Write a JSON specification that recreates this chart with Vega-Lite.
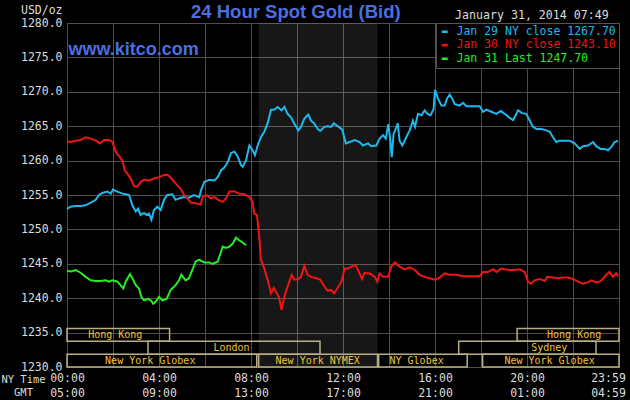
{
  "$schema": "https://vega.github.io/schema/vega-lite/v6.json",
  "width": 552,
  "height": 344,
  "autosize": "none",
  "padding": {"left": 67, "top": 23, "right": 11, "bottom": 33},
  "background": "#000000",
  "config": {
    "view": {"stroke": "#5a5a5a", "strokeWidth": 1, "fill": "#000000"},
    "axis": {"gridColor": "#4e4e4e", "gridWidth": 1, "domain": false, "ticks": false, "labelFont": "DejaVu Sans Mono", "labelFontSize": 11.5, "labelColor": "#dcdcdc", "titleFont": "DejaVu Sans Mono", "titleFontWeight": "normal", "titleColor": "#dcdcdc"}
  },
  "datasets": {
    "shade": [{"start": 8.333, "end": 13.5}],
    "sessions": [
      {"name": "Hong Kong", "start": 0, "end": 4.46, "lo": 1233.73, "hi": 1235.6, "at": 2.1},
      {"name": "Hong Kong", "start": 19.57, "end": 24, "lo": 1233.73, "hi": 1235.6, "at": 22.05},
      {"name": "London", "start": 3.52, "end": 11.0, "lo": 1231.87, "hi": 1233.73, "at": 7.15},
      {"name": "Sydney", "start": 17.03, "end": 23.0, "lo": 1231.87, "hi": 1233.73, "at": 20.97},
      {"name": "New York Globex", "start": 0, "end": 8.25, "lo": 1230, "hi": 1231.87, "at": 3.62},
      {"name": "New York NYMEX", "start": 8.333, "end": 13.5, "lo": 1230, "hi": 1231.87, "at": 10.9},
      {"name": "NY Globex", "start": 13.55, "end": 17.4, "lo": 1230, "hi": 1231.87, "at": 15.2},
      {"name": "New York Globex", "start": 18.07, "end": 24, "lo": 1230, "hi": 1231.87, "at": 20.98}
    ],
    "prices": [
      {"s": "Jan 29", "h": 0, "v": 1253.0}, {"s": "Jan 29", "h": 0.16, "v": 1253.3}, {"s": "Jan 29", "h": 0.38, "v": 1253.4}, {"s": "Jan 29", "h": 0.59, "v": 1253.4},
      {"s": "Jan 29", "h": 0.81, "v": 1253.5}, {"s": "Jan 29", "h": 1.03, "v": 1253.9}, {"s": "Jan 29", "h": 1.25, "v": 1254.3}, {"s": "Jan 29", "h": 1.39, "v": 1255.0},
      {"s": "Jan 29", "h": 1.54, "v": 1255.3}, {"s": "Jan 29", "h": 1.75, "v": 1255.5}, {"s": "Jan 29", "h": 1.9, "v": 1255.2}, {"s": "Jan 29", "h": 2.0, "v": 1255.8},
      {"s": "Jan 29", "h": 2.19, "v": 1255.5}, {"s": "Jan 29", "h": 2.41, "v": 1255.2}, {"s": "Jan 29", "h": 2.55, "v": 1255.1}, {"s": "Jan 29", "h": 2.7, "v": 1255.0},
      {"s": "Jan 29", "h": 2.84, "v": 1253.5}, {"s": "Jan 29", "h": 2.99, "v": 1252.6}, {"s": "Jan 29", "h": 3.09, "v": 1253.0}, {"s": "Jan 29", "h": 3.2, "v": 1252.1},
      {"s": "Jan 29", "h": 3.35, "v": 1252.4}, {"s": "Jan 29", "h": 3.46, "v": 1252.1}, {"s": "Jan 29", "h": 3.57, "v": 1252.3}, {"s": "Jan 29", "h": 3.67, "v": 1251.4},
      {"s": "Jan 29", "h": 3.78, "v": 1252.8}, {"s": "Jan 29", "h": 3.93, "v": 1253.3}, {"s": "Jan 29", "h": 4.07, "v": 1252.8}, {"s": "Jan 29", "h": 4.22, "v": 1254.3},
      {"s": "Jan 29", "h": 4.36, "v": 1255.0}, {"s": "Jan 29", "h": 4.58, "v": 1255.1}, {"s": "Jan 29", "h": 4.72, "v": 1254.3}, {"s": "Jan 29", "h": 4.87, "v": 1254.5},
      {"s": "Jan 29", "h": 5.09, "v": 1254.7}, {"s": "Jan 29", "h": 5.3, "v": 1254.6}, {"s": "Jan 29", "h": 5.52, "v": 1255.0}, {"s": "Jan 29", "h": 5.75, "v": 1254.7},
      {"s": "Jan 29", "h": 5.83, "v": 1255.7}, {"s": "Jan 29", "h": 5.97, "v": 1256.9}, {"s": "Jan 29", "h": 6.19, "v": 1257.2}, {"s": "Jan 29", "h": 6.41, "v": 1257.1},
      {"s": "Jan 29", "h": 6.55, "v": 1257.6}, {"s": "Jan 29", "h": 6.7, "v": 1258.6}, {"s": "Jan 29", "h": 6.84, "v": 1259.0}, {"s": "Jan 29", "h": 6.99, "v": 1259.8},
      {"s": "Jan 29", "h": 7.13, "v": 1261.1}, {"s": "Jan 29", "h": 7.28, "v": 1261.3}, {"s": "Jan 29", "h": 7.42, "v": 1260.6}, {"s": "Jan 29", "h": 7.57, "v": 1259.3},
      {"s": "Jan 29", "h": 7.64, "v": 1259.1}, {"s": "Jan 29", "h": 7.78, "v": 1260.0}, {"s": "Jan 29", "h": 7.93, "v": 1262.2}, {"s": "Jan 29", "h": 8.07, "v": 1261.5},
      {"s": "Jan 29", "h": 8.17, "v": 1260.8}, {"s": "Jan 29", "h": 8.29, "v": 1262.2}, {"s": "Jan 29", "h": 8.43, "v": 1263.4}, {"s": "Jan 29", "h": 8.58, "v": 1264.2},
      {"s": "Jan 29", "h": 8.72, "v": 1265.4}, {"s": "Jan 29", "h": 8.87, "v": 1267.4}, {"s": "Jan 29", "h": 9.01, "v": 1267.4}, {"s": "Jan 29", "h": 9.16, "v": 1267.8},
      {"s": "Jan 29", "h": 9.33, "v": 1267.3}, {"s": "Jan 29", "h": 9.45, "v": 1267.8}, {"s": "Jan 29", "h": 9.59, "v": 1266.8}, {"s": "Jan 29", "h": 9.74, "v": 1266.3},
      {"s": "Jan 29", "h": 9.88, "v": 1265.4}, {"s": "Jan 29", "h": 10.06, "v": 1264.4}, {"s": "Jan 29", "h": 10.17, "v": 1264.9}, {"s": "Jan 29", "h": 10.32, "v": 1266.1},
      {"s": "Jan 29", "h": 10.49, "v": 1266.7}, {"s": "Jan 29", "h": 10.61, "v": 1265.8}, {"s": "Jan 29", "h": 10.75, "v": 1265.4}, {"s": "Jan 29", "h": 10.9, "v": 1264.6},
      {"s": "Jan 29", "h": 11.01, "v": 1264.3}, {"s": "Jan 29", "h": 11.19, "v": 1264.9}, {"s": "Jan 29", "h": 11.33, "v": 1265.0}, {"s": "Jan 29", "h": 11.48, "v": 1264.9},
      {"s": "Jan 29", "h": 11.6, "v": 1265.4}, {"s": "Jan 29", "h": 11.78, "v": 1265.0}, {"s": "Jan 29", "h": 11.97, "v": 1264.5}, {"s": "Jan 29", "h": 12.12, "v": 1262.5},
      {"s": "Jan 29", "h": 12.29, "v": 1262.7}, {"s": "Jan 29", "h": 12.51, "v": 1263.0}, {"s": "Jan 29", "h": 12.72, "v": 1262.7}, {"s": "Jan 29", "h": 12.87, "v": 1262.2},
      {"s": "Jan 29", "h": 13.09, "v": 1262.5}, {"s": "Jan 29", "h": 13.23, "v": 1262.1}, {"s": "Jan 29", "h": 13.45, "v": 1262.2}, {"s": "Jan 29", "h": 13.59, "v": 1263.2},
      {"s": "Jan 29", "h": 13.74, "v": 1263.7}, {"s": "Jan 29", "h": 13.86, "v": 1263.2}, {"s": "Jan 29", "h": 13.97, "v": 1265.3}, {"s": "Jan 29", "h": 14.06, "v": 1262.9},
      {"s": "Jan 29", "h": 14.12, "v": 1260.5}, {"s": "Jan 29", "h": 14.2, "v": 1263.9}, {"s": "Jan 29", "h": 14.29, "v": 1264.6}, {"s": "Jan 29", "h": 14.38, "v": 1265.4},
      {"s": "Jan 29", "h": 14.46, "v": 1262.9}, {"s": "Jan 29", "h": 14.58, "v": 1262.2}, {"s": "Jan 29", "h": 14.75, "v": 1263.4}, {"s": "Jan 29", "h": 14.9, "v": 1264.4},
      {"s": "Jan 29", "h": 15.04, "v": 1265.8}, {"s": "Jan 29", "h": 15.13, "v": 1264.9}, {"s": "Jan 29", "h": 15.26, "v": 1266.8}, {"s": "Jan 29", "h": 15.41, "v": 1266.6},
      {"s": "Jan 29", "h": 15.55, "v": 1267.3}, {"s": "Jan 29", "h": 15.67, "v": 1266.8}, {"s": "Jan 29", "h": 15.81, "v": 1266.6}, {"s": "Jan 29", "h": 15.94, "v": 1267.5},
      {"s": "Jan 29", "h": 16.0, "v": 1270.3}, {"s": "Jan 29", "h": 16.13, "v": 1269.0}, {"s": "Jan 29", "h": 16.28, "v": 1268.0}, {"s": "Jan 29", "h": 16.42, "v": 1268.0},
      {"s": "Jan 29", "h": 16.52, "v": 1269.0}, {"s": "Jan 29", "h": 16.64, "v": 1269.6}, {"s": "Jan 29", "h": 16.75, "v": 1269.0}, {"s": "Jan 29", "h": 16.86, "v": 1268.2},
      {"s": "Jan 29", "h": 17.07, "v": 1268.0}, {"s": "Jan 29", "h": 17.22, "v": 1268.4}, {"s": "Jan 29", "h": 17.36, "v": 1267.9}, {"s": "Jan 29", "h": 17.58, "v": 1267.9},
      {"s": "Jan 29", "h": 17.94, "v": 1267.9}, {"s": "Jan 29", "h": 18.09, "v": 1267.1}, {"s": "Jan 29", "h": 18.23, "v": 1267.4}, {"s": "Jan 29", "h": 18.45, "v": 1267.1},
      {"s": "Jan 29", "h": 18.67, "v": 1266.8}, {"s": "Jan 29", "h": 18.86, "v": 1267.2}, {"s": "Jan 29", "h": 19.03, "v": 1266.8}, {"s": "Jan 29", "h": 19.25, "v": 1266.2},
      {"s": "Jan 29", "h": 19.39, "v": 1265.9}, {"s": "Jan 29", "h": 19.54, "v": 1266.8}, {"s": "Jan 29", "h": 19.61, "v": 1267.3}, {"s": "Jan 29", "h": 19.78, "v": 1266.9},
      {"s": "Jan 29", "h": 19.97, "v": 1266.8}, {"s": "Jan 29", "h": 20.12, "v": 1265.8}, {"s": "Jan 29", "h": 20.26, "v": 1264.9}, {"s": "Jan 29", "h": 20.41, "v": 1264.6},
      {"s": "Jan 29", "h": 20.62, "v": 1264.6}, {"s": "Jan 29", "h": 20.84, "v": 1264.4}, {"s": "Jan 29", "h": 20.99, "v": 1264.2}, {"s": "Jan 29", "h": 21.13, "v": 1263.4},
      {"s": "Jan 29", "h": 21.28, "v": 1262.7}, {"s": "Jan 29", "h": 21.42, "v": 1262.9}, {"s": "Jan 29", "h": 21.64, "v": 1262.9}, {"s": "Jan 29", "h": 21.86, "v": 1262.9},
      {"s": "Jan 29", "h": 22.07, "v": 1262.5}, {"s": "Jan 29", "h": 22.29, "v": 1261.7}, {"s": "Jan 29", "h": 22.43, "v": 1262.1}, {"s": "Jan 29", "h": 22.65, "v": 1262.2},
      {"s": "Jan 29", "h": 22.87, "v": 1262.7}, {"s": "Jan 29", "h": 23.01, "v": 1262.1}, {"s": "Jan 29", "h": 23.2, "v": 1261.7}, {"s": "Jan 29", "h": 23.38, "v": 1261.7},
      {"s": "Jan 29", "h": 23.52, "v": 1261.5}, {"s": "Jan 29", "h": 23.67, "v": 1262.0}, {"s": "Jan 29", "h": 23.81, "v": 1262.7}, {"s": "Jan 29", "h": 23.96, "v": 1262.9},

      {"s": "Jan 30", "h": 0, "v": 1262.8}, {"s": "Jan 30", "h": 0.16, "v": 1262.7}, {"s": "Jan 30", "h": 0.38, "v": 1262.9}, {"s": "Jan 30", "h": 0.59, "v": 1263.0},
      {"s": "Jan 30", "h": 0.81, "v": 1263.4}, {"s": "Jan 30", "h": 1.03, "v": 1263.2}, {"s": "Jan 30", "h": 1.25, "v": 1262.9}, {"s": "Jan 30", "h": 1.43, "v": 1262.5},
      {"s": "Jan 30", "h": 1.61, "v": 1263.0}, {"s": "Jan 30", "h": 1.83, "v": 1263.0}, {"s": "Jan 30", "h": 1.97, "v": 1262.7}, {"s": "Jan 30", "h": 2.12, "v": 1261.3},
      {"s": "Jan 30", "h": 2.3, "v": 1260.5}, {"s": "Jan 30", "h": 2.41, "v": 1260.0}, {"s": "Jan 30", "h": 2.51, "v": 1258.6}, {"s": "Jan 30", "h": 2.62, "v": 1258.1},
      {"s": "Jan 30", "h": 2.77, "v": 1257.4}, {"s": "Jan 30", "h": 2.91, "v": 1256.3}, {"s": "Jan 30", "h": 3.06, "v": 1256.2}, {"s": "Jan 30", "h": 3.2, "v": 1256.9},
      {"s": "Jan 30", "h": 3.35, "v": 1257.2}, {"s": "Jan 30", "h": 3.57, "v": 1257.1}, {"s": "Jan 30", "h": 3.78, "v": 1257.4}, {"s": "Jan 30", "h": 4.0, "v": 1257.6},
      {"s": "Jan 30", "h": 4.22, "v": 1257.9}, {"s": "Jan 30", "h": 4.39, "v": 1257.9}, {"s": "Jan 30", "h": 4.54, "v": 1257.4}, {"s": "Jan 30", "h": 4.72, "v": 1256.7},
      {"s": "Jan 30", "h": 4.94, "v": 1255.9}, {"s": "Jan 30", "h": 5.09, "v": 1255.0}, {"s": "Jan 30", "h": 5.23, "v": 1254.5}, {"s": "Jan 30", "h": 5.38, "v": 1253.9},
      {"s": "Jan 30", "h": 5.59, "v": 1253.8}, {"s": "Jan 30", "h": 5.81, "v": 1253.6}, {"s": "Jan 30", "h": 5.9, "v": 1254.7}, {"s": "Jan 30", "h": 6.04, "v": 1255.0},
      {"s": "Jan 30", "h": 6.26, "v": 1254.5}, {"s": "Jan 30", "h": 6.41, "v": 1254.7}, {"s": "Jan 30", "h": 6.58, "v": 1254.3}, {"s": "Jan 30", "h": 6.77, "v": 1254.0},
      {"s": "Jan 30", "h": 6.91, "v": 1254.5}, {"s": "Jan 30", "h": 7.06, "v": 1255.5}, {"s": "Jan 30", "h": 7.28, "v": 1255.5}, {"s": "Jan 30", "h": 7.49, "v": 1255.2},
      {"s": "Jan 30", "h": 7.71, "v": 1255.1}, {"s": "Jan 30", "h": 7.93, "v": 1254.7}, {"s": "Jan 30", "h": 8.07, "v": 1254.0}, {"s": "Jan 30", "h": 8.14, "v": 1252.3},
      {"s": "Jan 30", "h": 8.26, "v": 1252.1}, {"s": "Jan 30", "h": 8.36, "v": 1248.9}, {"s": "Jan 30", "h": 8.43, "v": 1245.6}, {"s": "Jan 30", "h": 8.58, "v": 1244.3},
      {"s": "Jan 30", "h": 8.72, "v": 1242.7}, {"s": "Jan 30", "h": 8.87, "v": 1240.7}, {"s": "Jan 30", "h": 8.99, "v": 1241.5}, {"s": "Jan 30", "h": 9.13, "v": 1240.7},
      {"s": "Jan 30", "h": 9.23, "v": 1240.0}, {"s": "Jan 30", "h": 9.33, "v": 1238.3}, {"s": "Jan 30", "h": 9.45, "v": 1240.2}, {"s": "Jan 30", "h": 9.59, "v": 1241.7},
      {"s": "Jan 30", "h": 9.77, "v": 1243.4}, {"s": "Jan 30", "h": 9.88, "v": 1242.7}, {"s": "Jan 30", "h": 10.03, "v": 1242.7}, {"s": "Jan 30", "h": 10.17, "v": 1243.1},
      {"s": "Jan 30", "h": 10.32, "v": 1244.7}, {"s": "Jan 30", "h": 10.46, "v": 1243.4}, {"s": "Jan 30", "h": 10.61, "v": 1243.1}, {"s": "Jan 30", "h": 10.83, "v": 1242.9},
      {"s": "Jan 30", "h": 11.01, "v": 1242.7}, {"s": "Jan 30", "h": 11.19, "v": 1241.7}, {"s": "Jan 30", "h": 11.33, "v": 1241.1}, {"s": "Jan 30", "h": 11.48, "v": 1241.2},
      {"s": "Jan 30", "h": 11.62, "v": 1240.7}, {"s": "Jan 30", "h": 11.71, "v": 1241.2}, {"s": "Jan 30", "h": 11.93, "v": 1242.4}, {"s": "Jan 30", "h": 12.07, "v": 1244.3},
      {"s": "Jan 30", "h": 12.22, "v": 1244.3}, {"s": "Jan 30", "h": 12.36, "v": 1244.6}, {"s": "Jan 30", "h": 12.55, "v": 1244.8}, {"s": "Jan 30", "h": 12.72, "v": 1243.6},
      {"s": "Jan 30", "h": 12.83, "v": 1242.8}, {"s": "Jan 30", "h": 12.94, "v": 1243.7}, {"s": "Jan 30", "h": 13.16, "v": 1243.6}, {"s": "Jan 30", "h": 13.38, "v": 1243.1},
      {"s": "Jan 30", "h": 13.49, "v": 1242.4}, {"s": "Jan 30", "h": 13.59, "v": 1243.6}, {"s": "Jan 30", "h": 13.74, "v": 1243.1}, {"s": "Jan 30", "h": 13.96, "v": 1243.1},
      {"s": "Jan 30", "h": 14.1, "v": 1244.6}, {"s": "Jan 30", "h": 14.25, "v": 1245.2}, {"s": "Jan 30", "h": 14.46, "v": 1244.6}, {"s": "Jan 30", "h": 14.68, "v": 1244.2},
      {"s": "Jan 30", "h": 14.9, "v": 1244.5}, {"s": "Jan 30", "h": 15.12, "v": 1244.1}, {"s": "Jan 30", "h": 15.33, "v": 1243.4}, {"s": "Jan 30", "h": 15.55, "v": 1243.1},
      {"s": "Jan 30", "h": 15.77, "v": 1242.9}, {"s": "Jan 30", "h": 15.99, "v": 1242.7}, {"s": "Jan 30", "h": 16.2, "v": 1243.0}, {"s": "Jan 30", "h": 16.42, "v": 1243.6},
      {"s": "Jan 30", "h": 16.64, "v": 1243.4}, {"s": "Jan 30", "h": 16.93, "v": 1243.4}, {"s": "Jan 30", "h": 17.22, "v": 1243.2}, {"s": "Jan 30", "h": 17.94, "v": 1243.2},
      {"s": "Jan 30", "h": 18.09, "v": 1243.8}, {"s": "Jan 30", "h": 18.3, "v": 1243.8}, {"s": "Jan 30", "h": 18.52, "v": 1244.2}, {"s": "Jan 30", "h": 18.67, "v": 1243.8},
      {"s": "Jan 30", "h": 18.88, "v": 1244.3}, {"s": "Jan 30", "h": 19.03, "v": 1244.2}, {"s": "Jan 30", "h": 19.25, "v": 1244.1}, {"s": "Jan 30", "h": 19.46, "v": 1244.1},
      {"s": "Jan 30", "h": 19.68, "v": 1244.2}, {"s": "Jan 30", "h": 19.9, "v": 1243.8}, {"s": "Jan 30", "h": 20.04, "v": 1242.4}, {"s": "Jan 30", "h": 20.16, "v": 1242.1},
      {"s": "Jan 30", "h": 20.33, "v": 1242.6}, {"s": "Jan 30", "h": 20.55, "v": 1242.8}, {"s": "Jan 30", "h": 20.77, "v": 1242.5}, {"s": "Jan 30", "h": 20.88, "v": 1243.1},
      {"s": "Jan 30", "h": 21.13, "v": 1243.0}, {"s": "Jan 30", "h": 21.35, "v": 1242.9}, {"s": "Jan 30", "h": 21.57, "v": 1243.0}, {"s": "Jan 30", "h": 21.78, "v": 1243.0},
      {"s": "Jan 30", "h": 22.0, "v": 1242.8}, {"s": "Jan 30", "h": 22.22, "v": 1242.4}, {"s": "Jan 30", "h": 22.43, "v": 1242.1}, {"s": "Jan 30", "h": 22.65, "v": 1242.3},
      {"s": "Jan 30", "h": 22.8, "v": 1242.6}, {"s": "Jan 30", "h": 23.01, "v": 1242.3}, {"s": "Jan 30", "h": 23.16, "v": 1242.4}, {"s": "Jan 30", "h": 23.3, "v": 1242.8},
      {"s": "Jan 30", "h": 23.45, "v": 1243.4}, {"s": "Jan 30", "h": 23.59, "v": 1243.8}, {"s": "Jan 30", "h": 23.74, "v": 1243.1}, {"s": "Jan 30", "h": 23.88, "v": 1243.6},
      {"s": "Jan 30", "h": 23.96, "v": 1243.2},

      {"s": "Jan 31", "h": 0, "v": 1244.0}, {"s": "Jan 31", "h": 0.16, "v": 1243.9}, {"s": "Jan 31", "h": 0.38, "v": 1244.1}, {"s": "Jan 31", "h": 0.59, "v": 1243.7},
      {"s": "Jan 31", "h": 0.81, "v": 1243.1}, {"s": "Jan 31", "h": 1.03, "v": 1242.6}, {"s": "Jan 31", "h": 1.25, "v": 1242.5}, {"s": "Jan 31", "h": 1.46, "v": 1242.5},
      {"s": "Jan 31", "h": 1.68, "v": 1242.6}, {"s": "Jan 31", "h": 1.83, "v": 1242.4}, {"s": "Jan 31", "h": 1.97, "v": 1242.6}, {"s": "Jan 31", "h": 2.19, "v": 1242.4},
      {"s": "Jan 31", "h": 2.33, "v": 1241.9}, {"s": "Jan 31", "h": 2.45, "v": 1241.4}, {"s": "Jan 31", "h": 2.55, "v": 1242.4}, {"s": "Jan 31", "h": 2.74, "v": 1243.5},
      {"s": "Jan 31", "h": 2.84, "v": 1242.9}, {"s": "Jan 31", "h": 2.99, "v": 1241.9}, {"s": "Jan 31", "h": 3.13, "v": 1241.4}, {"s": "Jan 31", "h": 3.23, "v": 1240.2},
      {"s": "Jan 31", "h": 3.35, "v": 1239.7}, {"s": "Jan 31", "h": 3.52, "v": 1239.9}, {"s": "Jan 31", "h": 3.64, "v": 1239.7}, {"s": "Jan 31", "h": 3.75, "v": 1239.2},
      {"s": "Jan 31", "h": 3.86, "v": 1239.5}, {"s": "Jan 31", "h": 4.0, "v": 1240.2}, {"s": "Jan 31", "h": 4.14, "v": 1239.7}, {"s": "Jan 31", "h": 4.33, "v": 1239.9},
      {"s": "Jan 31", "h": 4.51, "v": 1241.2}, {"s": "Jan 31", "h": 4.72, "v": 1241.9}, {"s": "Jan 31", "h": 4.87, "v": 1242.6}, {"s": "Jan 31", "h": 4.97, "v": 1243.4},
      {"s": "Jan 31", "h": 5.16, "v": 1242.6}, {"s": "Jan 31", "h": 5.3, "v": 1242.9}, {"s": "Jan 31", "h": 5.45, "v": 1244.1}, {"s": "Jan 31", "h": 5.59, "v": 1245.3},
      {"s": "Jan 31", "h": 5.74, "v": 1245.6}, {"s": "Jan 31", "h": 5.97, "v": 1245.2}, {"s": "Jan 31", "h": 6.19, "v": 1245.2}, {"s": "Jan 31", "h": 6.33, "v": 1245.0},
      {"s": "Jan 31", "h": 6.55, "v": 1245.3}, {"s": "Jan 31", "h": 6.67, "v": 1246.5}, {"s": "Jan 31", "h": 6.77, "v": 1247.5}, {"s": "Jan 31", "h": 6.91, "v": 1247.3},
      {"s": "Jan 31", "h": 7.06, "v": 1247.5}, {"s": "Jan 31", "h": 7.2, "v": 1247.9}, {"s": "Jan 31", "h": 7.35, "v": 1248.8}, {"s": "Jan 31", "h": 7.49, "v": 1248.4},
      {"s": "Jan 31", "h": 7.64, "v": 1248.1}, {"s": "Jan 31", "h": 7.78, "v": 1247.7}
    ]
  },
  "layer": [
    {
      "data": {"name": "shade"},
      "mark": {"type": "rect", "fill": "#ffffff", "opacity": 0.09},
      "encoding": {
        "x": {"field": "start", "type": "quantitative", "scale": {"domain": [0, 24], "nice": false, "zero": false}},
        "x2": {"field": "end"}
      }
    },
    {
      "data": {"name": "sessions"},
      "mark": {"type": "rect", "fillOpacity": 0, "stroke": "#b8b084", "strokeWidth": 1.5},
      "encoding": {
        "x": {"field": "start", "type": "quantitative", "scale": {"domain": [0, 24], "nice": false, "zero": false}},
        "x2": {"field": "end"},
        "y": {
          "field": "lo", "type": "quantitative",
          "scale": {"domain": [1230, 1280], "nice": false, "zero": false},
          "axis": {
            "values": [1230, 1235, 1240, 1245, 1250, 1255, 1260, 1265, 1270, 1275, 1280],
            "tickCount": 11,
            "format": ".1f",
            "grid": true,
            "labelOverlap": false,
            "labelPadding": 5,
            "title": "USD/oz",
            "titleAngle": 0,
            "titleAlign": "right",
            "titleBaseline": "alphabetic",
            "titleX": -5,
            "titleY": -10,
            "titleFontSize": 11.5
          }
        },
        "y2": {"field": "hi"}
      }
    },
    {
      "data": {"name": "sessions"},
      "mark": {"type": "text", "font": "DejaVu Sans Mono", "fontSize": 10, "color": "#f0c040", "baseline": "middle", "align": "center", "dy": -6.5},
      "encoding": {
        "x": {"field": "at", "type": "quantitative", "scale": {"domain": [0, 24], "nice": false, "zero": false}},
        "y": {"field": "lo", "type": "quantitative", "scale": {"domain": [1230, 1280], "nice": false, "zero": false}},
        "text": {"field": "name"}
      }
    },
    {
      "data": {"name": "prices"},
      "mark": {"type": "line", "strokeWidth": 2},
      "encoding": {
        "x": {
          "field": "h", "type": "quantitative",
          "scale": {"domain": [0, 24], "nice": false, "zero": false},
          "axis": {
            "values": [0, 2, 4, 6, 8, 10, 12, 14, 16, 18, 20, 22, 24],
            "grid": true,
            "labelFlush": false,
            "labelOverlap": false,
            "labelBound": false,
            "labelExpr": "datum.value % 4 != 0 ? '' : datum.value == 24 ? ['23:59', '04:59'] : [(datum.value < 10 ? '0' : '') + datum.value + ':00', ((datum.value + 5) % 24 < 10 ? '0' : '') + ((datum.value + 5) % 24) + ':00']",
            "labelLineHeight": 15,
            "labelPadding": 5,
            "labelBaseline": "top",
            "labelOffset": {"condition": {"test": "datum.value == 24", "value": -11}, "value": 0},
            "title": ["NY Time", "GMT"],
            "titleFontSize": 10.5,
            "titleLineHeight": 13,
            "titleX": -44,
            "titleY": 7,
            "titleAlign": "center",
            "titleBaseline": "top"
          }
        },
        "y": {
          "field": "v", "type": "quantitative",
          "scale": {"domain": [1230, 1280], "nice": false, "zero": false},
          "axis": {
            "values": [1230, 1235, 1240, 1245, 1250, 1255, 1260, 1265, 1270, 1275, 1280],
            "tickCount": 11,
            "format": ".1f",
            "grid": true,
            "labelOverlap": false,
            "labelPadding": 5,
            "title": "USD/oz",
            "titleAngle": 0,
            "titleAlign": "right",
            "titleBaseline": "alphabetic",
            "titleX": -5,
            "titleY": -10,
            "titleFontSize": 11.5
          }
        },
        "color": {
          "field": "s", "type": "nominal",
          "scale": {"domain": ["Jan 29", "Jan 30", "Jan 31"], "range": ["#20b8ec", "#f01414", "#22ee22"]},
          "legend": {
            "orient": "top-right",
            "offset": 0,
            "title": null,
            "fillColor": "#000000",
            "strokeColor": "#555555",
            "padding": 3,
            "rowPadding": 0.5,
            "symbolType": "stroke",
            "symbolSize": 36,
            "symbolStrokeWidth": 2.5,
            "labelFont": "DejaVu Sans Mono",
            "labelFontSize": 11.5,
            "labelOffset": 6,
            "labelLimit": 300,
            "labelExpr": "datum.label == 'Jan 29' ? 'Jan 29 NY close 1267.70' : datum.label == 'Jan 30' ? 'Jan 30 NY close 1243.10' : 'Jan 31 Last 1247.70'",
            "labelColor": {"expr": "scale('color', datum.value)"}
          }
        }
      }
    },
    {
      "data": {"values": [{}]},
      "mark": {"type": "text", "text": "24 Hour Spot Gold (Bid)", "font": "Liberation Sans", "fontWeight": "bold", "fontSize": 18.5, "color": "#4b6fe0", "align": "center", "baseline": "alphabetic"},
      "encoding": {
        "x": {"datum": 9.95, "type": "quantitative", "scale": {"domain": [0, 24], "nice": false, "zero": false}},
        "y": {"datum": 1280.78, "type": "quantitative", "scale": {"domain": [1230, 1280], "nice": false, "zero": false}}
      }
    },
    {
      "data": {"values": [{}]},
      "mark": {"type": "text", "text": "www.kitco.com", "font": "Liberation Sans", "fontWeight": "bold", "fontSize": 18, "color": "#4b6fe0", "align": "left", "baseline": "alphabetic"},
      "encoding": {
        "x": {"datum": 0.06, "type": "quantitative", "scale": {"domain": [0, 24], "nice": false, "zero": false}},
        "y": {"datum": 1275.3, "type": "quantitative", "scale": {"domain": [1230, 1280], "nice": false, "zero": false}}
      }
    },
    {
      "data": {"values": [{}]},
      "mark": {"type": "text", "text": "January 31, 2014 07:49", "font": "DejaVu Sans Mono", "fontSize": 11.6, "color": "#dcdcdc", "align": "right", "baseline": "alphabetic"},
      "encoding": {
        "x": {"datum": 23.55, "type": "quantitative", "scale": {"domain": [0, 24], "nice": false, "zero": false}},
        "y": {"datum": 1280.54, "type": "quantitative", "scale": {"domain": [1230, 1280], "nice": false, "zero": false}}
      }
    }
  ]
}
